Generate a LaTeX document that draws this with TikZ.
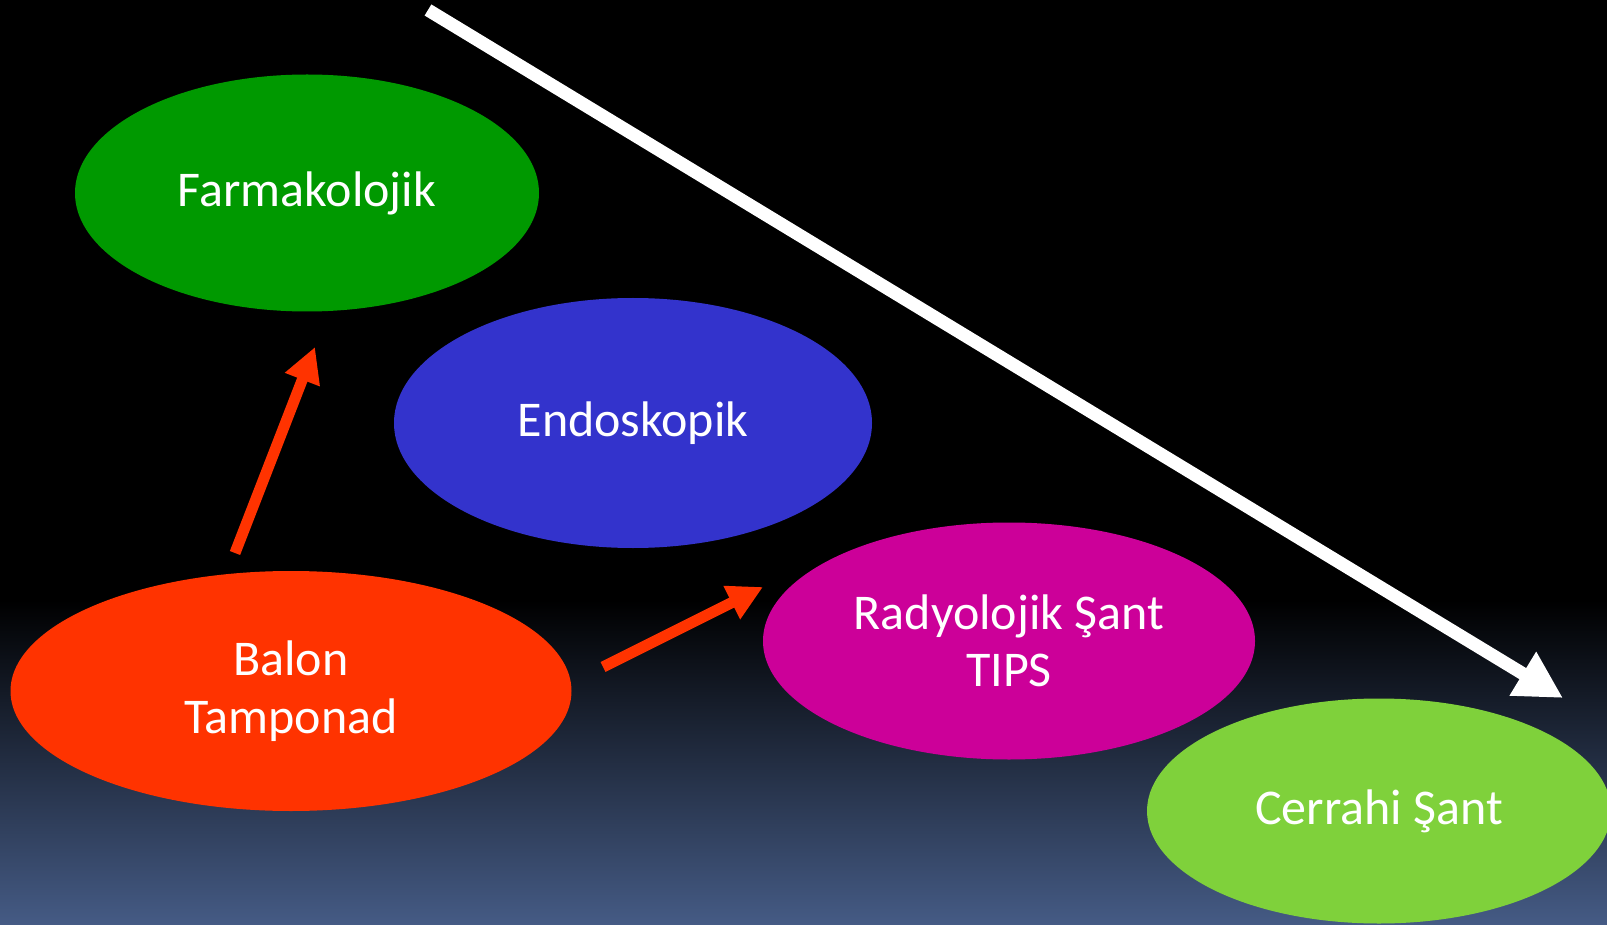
\documentclass[tikz,border=0pt]{standalone}
\usepackage{fontspec}
\setmainfont{Carlito}
\usetikzlibrary{shapes.geometric,arrows.meta}
\definecolor{bgbottom}{RGB}{69,91,133}
\definecolor{cgreen}{RGB}{0,153,0}
\definecolor{cblue}{RGB}{51,51,204}
\definecolor{cred}{RGB}{255,51,0}
\definecolor{cmag}{RGB}{204,0,153}
\definecolor{clime}{RGB}{127,209,59}
\tikzset{
  oval/.style={ellipse, inner sep=0pt, text=white, align=center,
    font=\fontsize{50}{57.5}\selectfont},
  redarrow/.style={draw=cred, line width=11pt, -{Triangle[length=35pt,width=35pt]}},
  whitearrow/.style={draw=white, line width=13pt, -{Triangle[length=47pt,width=48pt]}}
}
\begin{document}
\begin{tikzpicture}[x=1pt,y=-1pt]
\useasboundingbox (0,0) rectangle (1607,925);
\clip (0,0) rectangle (1607,925);
\fill[black] (0,0) rectangle (1607,925);
\shade[top color=black, bottom color=bgbottom] (0,600) rectangle (1607,925);

\node[oval, fill=cgreen, minimum width=464pt, minimum height=237pt] (farm) at (307,193) {Farmakolojik};
\node[oval, fill=cblue, minimum width=478pt, minimum height=250pt] (endo) at (633,423) {Endoskopik};
\node[oval, fill=cred, minimum width=561pt, minimum height=240pt] (balon) at (291,691) {Balon\\Tamponad};
\node[oval, fill=cmag, minimum width=492pt, minimum height=237pt] (rady) at (1009,641) {Radyolojik Şant\\TIPS};
\node[oval, fill=clime, minimum width=464pt, minimum height=225pt] (cerr) at (1379,811) {Cerrahi Şant};

\coordinate (w0) at (428,10);
\coordinate (w1) at (1563,698);
\coordinate (r1a) at (235,553);
\coordinate (r1b) at (315,347);
\coordinate (r2a) at (603,667);
\coordinate (r2b) at (763,587);

\draw[whitearrow] (w0) -- (w1);
\draw[redarrow] (r1a) -- (r1b);
\draw[redarrow] (r2a) -- (r2b);
\end{tikzpicture}
\end{document}
